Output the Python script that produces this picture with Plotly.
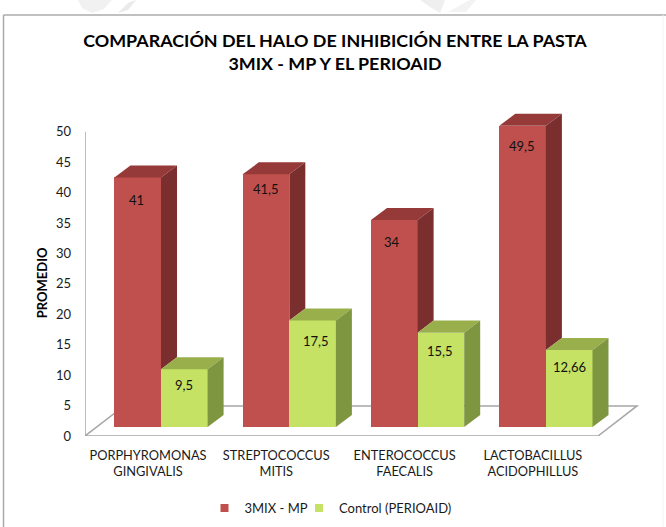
import plotly.graph_objects as go

categories = ["PORPHYROMONAS<br>GINGIVALIS", "STREPTOCOCCUS<br>MITIS", "ENTEROCOCCUS<br>FAECALIS", "LACTOBACILLUS<br>ACIDOPHILLUS"]
series_a_name = "3MIX - MP"
series_b_name = "Control (PERIOAID)"
series_a = [41, 41.5, 34, 49.5]
series_b = [9.5, 17.5, 15.5, 12.66]
y_ticks = [0, 5, 10, 15, 20, 25, 30, 35, 40, 45, 50]
title = "COMPARACIÓN DEL HALO DE INHIBICIÓN ENTRE LA PASTA<br>3MIX - MP Y EL PERIOAID"
y_title = "PROMEDIO"

# layout geometry
W, H = 666, 527
L, R, T, B = 85, 26, 100.0, 91.4
PX_X = 128.3      # px per category
PX_Y = 6.08       # px per value unit
XMIN = -76 / PX_X
XMAX = XMIN + (W - L - R) / PX_X
YMAX = (H - T - B) / PX_Y
BAR_W = 46.6 / PX_X
DEPTH_X = 16 / PX_X
DEPTH_Y = 12 / PX_Y
BASE = 9 / PX_Y    # front plane sits above the axis zero
FLOOR_X = 39 / PX_X
FLOOR_Y = 30 / PX_Y
TICK_SHIFT = -13 / PX_X

RED, RED_SIDE, RED_TOP = "#C0504D", "#7A2F2E", "#953A38"
GRN, GRN_SIDE, GRN_TOP = "#C5E264", "#7F9640", "#98AF4C"
AXIS = "#A6A6A6"
FONT = "Lato"

def px_x(p):
    return (p - L) / (W - L - R)

def px_y(p):
    return 1 - (p - T) / (H - T - B)

fig = go.Figure()
xs = list(range(len(categories)))

# front faces
fig.add_bar(x=[i - BAR_W / 2 for i in xs], y=series_a, base=BASE, width=BAR_W,
            marker=dict(color=RED, line=dict(width=0)), showlegend=False, name=series_a_name)
fig.add_bar(x=[i + BAR_W / 2 for i in xs], y=series_b, base=BASE, width=BAR_W,
            marker=dict(color=GRN, line=dict(width=0)), showlegend=False, name=series_b_name)

def poly(px, py, color):
    fig.add_scatter(x=px + px[:1], y=py + py[:1], mode="lines", fill="toself", fillcolor=color,
                    line=dict(width=0, color=color), hoverinfo="skip", showlegend=False)

for i, a, b in zip(xs, series_a, series_b):
    ta, tb = BASE + a, BASE + b
    x0, xm, x1 = i - BAR_W, i, i + BAR_W
    # red: top and the part of its side that shows above the green bar
    poly([x0, xm, xm + DEPTH_X, x0 + DEPTH_X], [ta, ta, ta + DEPTH_Y, ta + DEPTH_Y], RED_TOP)
    poly([xm, xm + DEPTH_X, xm + DEPTH_X, xm], [ta, ta + DEPTH_Y, tb + DEPTH_Y, tb], RED_SIDE)
    # green: top and side
    poly([xm, x1, x1 + DEPTH_X, xm + DEPTH_X], [tb, tb, tb + DEPTH_Y, tb + DEPTH_Y], GRN_TOP)
    poly([x1, x1 + DEPTH_X, x1 + DEPTH_X, x1], [tb, tb + DEPTH_Y, BASE + DEPTH_Y, BASE], GRN_SIDE)

# legend entries (one legend each, so the spacing between them can be set)
fig.add_scatter(x=[None], y=[None], mode="markers", name=series_a_name, legend="legend",
                marker=dict(symbol="square", size=8, color=RED))
fig.add_scatter(x=[None], y=[None], mode="markers", name=series_b_name, legend="legend2",
                marker=dict(symbol="square", size=8, color=GRN))

def fmt(v):
    return str(v).replace(".", ",")

label_drop_a = [23, 15, 22, 20]
label_drop_b = [16, 21, 18, 17]
label_nudge_a = [-1, 0, -2, -1]
label_nudge_b = [0, 3, -1, 0]
ann = []
for i, a, b, da, db, na, nb in zip(xs, series_a, series_b, label_drop_a, label_drop_b, label_nudge_a, label_nudge_b):
    ann.append(dict(x=i - BAR_W / 2, y=BASE + a, text=fmt(a), showarrow=False, yshift=-da, xshift=na,
                    font=dict(family=FONT, size=13, color="#111")))
    ann.append(dict(x=i + BAR_W / 2, y=BASE + b, text=fmt(b), showarrow=False, yshift=-db, xshift=nb,
                    font=dict(family=FONT, size=13, color="#111")))
# value-axis title, centred lower than the plot area as in the reference
ann.append(dict(xref="paper", yref="paper", x=px_x(42), y=px_y(283), text=f"<b>{y_title}</b>", textangle=-90,
                xanchor="center", yanchor="middle", showarrow=False,
                font=dict(family=FONT, size=13, color="#000")))

shapes = [
    # outer frame
    dict(type="line", xref="paper", yref="paper", x0=px_x(3.5), x1=px_x(666), y0=px_y(15), y1=px_y(15),
         line=dict(color="#ABABAB", width=1.5)),
    dict(type="line", xref="paper", yref="paper", x0=px_x(3.5), x1=px_x(3.5), y0=px_y(15), y1=px_y(527),
         line=dict(color="#ABABAB", width=1.5)),
    dict(type="line", xref="paper", yref="paper", x0=px_x(663), x1=px_x(663), y0=px_y(15), y1=px_y(527),
         line=dict(color="#F2F2F2", width=1)),
    # floor
    dict(type="path", layer="below", xref="x", yref="y",
         path=f"M{XMIN},0 L{XMIN + 513 / PX_X},0 L{XMIN + 513 / PX_X + FLOOR_X},{FLOOR_Y} "
              f"L{XMIN + FLOOR_X},{FLOOR_Y} Z",
         line=dict(color=AXIS, width=1.5), fillcolor="white"),
    # value axis
    dict(type="line", layer="below", xref="x", yref="y", x0=XMIN, x1=XMIN, y0=0, y1=50,
         line=dict(color=AXIS, width=1.5)),
]
# faint watermark remnants above the frame
for path, col in [
    ("M78,0 L112,0 L104,9 L92,13 L82,8 Z", "#F1F1F1"),
    ("M118,13 L128,3 L136,0 L128,10 Z", "#EAEAEA"),
    ("M420,0 L445,0 L440,13 L430,7 Z", "#EFEFEF"),
    ("M448,12 L470,0 L476,0 L466,12 Z", "#F3F3F3"),
]:
    pts = []
    for tok in path.replace("Z", "").split():
        cmd, rest = tok[0], tok[1:]
        px, py = rest.split(",")
        pts.append(f"{cmd}{px_x(float(px))},{px_y(float(py))}")
    shapes.append(dict(type="path", xref="paper", yref="paper", path=" ".join(pts) + " Z",
                       fillcolor=col, line=dict(width=0)))

legend_common = dict(orientation="h", xref="container", xanchor="left", y=1 - 493 / H, yref="container",
                     yanchor="top", font=dict(family=FONT, size=13, color="#1a1a1a"),
                     itemwidth=30, bgcolor="rgba(0,0,0,0)")

fig.update_layout(
    width=W, height=H, autosize=False,
    margin=dict(l=L, r=R, t=T, b=B),
    paper_bgcolor="white", plot_bgcolor="rgba(0,0,0,0)",
    font=dict(family=FONT, size=13, color="#1a1a1a"),
    barmode="overlay", bargap=0,
    title=dict(text=f"<b>{title}</b>", x=335 / W, xanchor="center", y=1 - 47 / H, yanchor="top",
               font=dict(family=FONT, size=17.9, color="#000")),
    xaxis=dict(range=[XMIN, XMAX], tickvals=[i + TICK_SHIFT for i in xs], ticktext=categories,
               showgrid=False, zeroline=False, showline=False, ticks="", ticklen=0,
               ticklabelstandoff=10, tickfont=dict(family=FONT, size=12.8)),
    yaxis=dict(range=[0, YMAX], tickvals=y_ticks, showgrid=False, zeroline=False, showline=False,
               ticks="", ticklabelstandoff=13, tickfont=dict(family=FONT, size=13)),
    legend=dict(x=204.5 / W, **legend_common),
    legend2=dict(x=299 / W, **legend_common),
    annotations=ann, shapes=shapes,
)

fig.write_html("out.html", config=dict(displayModeBar=False),
               post_script="document.body.style.margin='0';")
